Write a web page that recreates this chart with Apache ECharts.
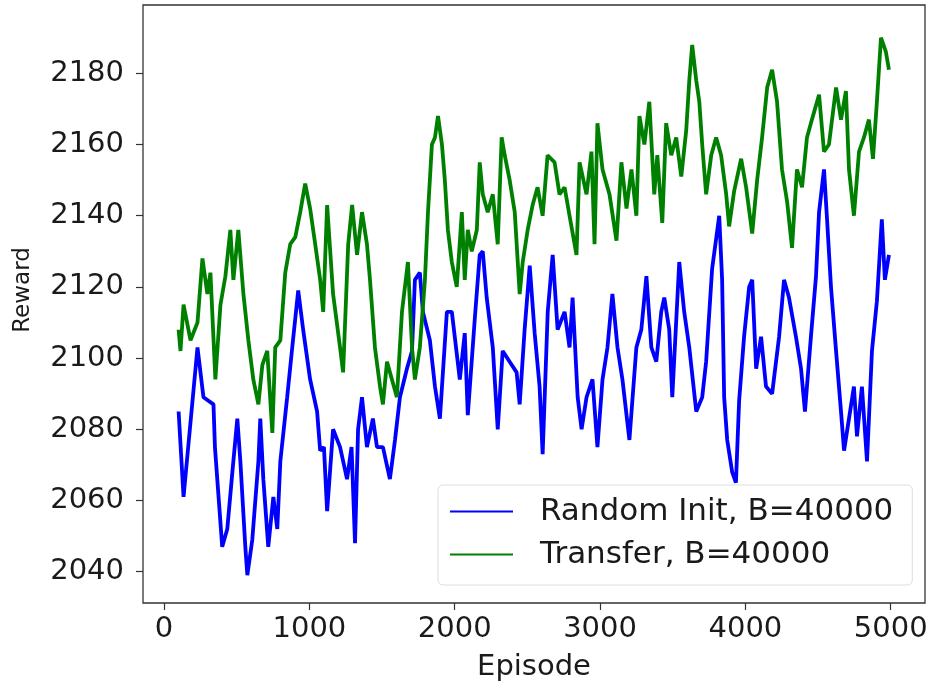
<!DOCTYPE html>
<html>
<head>
<meta charset="utf-8">
<title>Reward vs Episode</title>
<script src="https://cdn.jsdelivr.net/npm/echarts@6/dist/echarts.min.js"></script>
<style>
  html, body { margin: 0; padding: 0; background: #fff; }
  #chart { width: 933px; height: 687px; }
</style>
</head>
<body>
<div id="chart"></div>
<script>
// tick labels
var xTicks = [0, 1000, 2000, 3000, 4000, 5000];
var yTicks = [2040, 2060, 2080, 2100, 2120, 2140, 2160, 2180];

// Random Init, B=40000
var randomEpisodes = [100, 134, 230, 271, 340, 350, 400, 435, 470, 504, 525, 559, 573, 607, 649, 662, 683, 717, 752, 779,
    800, 847, 882, 923, 957, 1005, 1053, 1074, 1100, 1122, 1163, 1211, 1259, 1290, 1314, 1335, 1362, 1396, 1437, 1465,
    1506, 1554, 1589, 1623, 1671, 1706, 1726, 1760, 1781, 1829, 1864, 1898, 1946, 1980, 2035, 2069, 2090, 2138, 2172, 2193,
    2220, 2262, 2296, 2330, 2378, 2426, 2447, 2481, 2516, 2550, 2584, 2605, 2640, 2674, 2708, 2756, 2790, 2811, 2846, 2873,
    2907, 2948, 2982, 3017, 3051, 3085, 3120, 3154, 3202, 3250, 3284, 3319, 3353, 3387, 3421, 3442, 3476, 3497, 3545, 3579,
    3614, 3662, 3703, 3730, 3771, 3820, 3840, 3854, 3875, 3909, 3935, 3957, 3991, 4026, 4047, 4074, 4108, 4142, 4184, 4232,
    4266, 4300, 4348, 4383, 4410, 4451, 4486, 4507, 4541, 4562, 4589, 4624, 4658, 4679, 4713, 4747, 4768, 4802, 4837, 4871,
    4905, 4939, 4960, 4988];
var randomReward = [2085, 2061, 2103, 2089, 2087, 2075, 2047, 2052, 2068, 2083, 2071, 2047, 2039, 2049, 2071, 2083, 2066, 2047, 2061, 2052,
    2071, 2089, 2103, 2119, 2108, 2094, 2085, 2074, 2075, 2057, 2080, 2075, 2066, 2075, 2048, 2080, 2089, 2075, 2083, 2075,
    2075, 2066, 2077, 2089, 2097, 2102, 2122, 2124, 2113, 2105, 2092, 2083, 2113, 2113, 2094, 2107, 2084, 2111, 2129, 2130,
    2117, 2103, 2080, 2102, 2099, 2096, 2087, 2108, 2126, 2107, 2092, 2073, 2113, 2129, 2108, 2113, 2103, 2117, 2089, 2080,
    2089, 2094, 2075, 2094, 2103, 2118, 2103, 2094, 2077, 2103, 2108, 2123, 2103, 2099, 2113, 2117, 2108, 2089, 2127, 2113,
    2103, 2085, 2089, 2099, 2125, 2140, 2122, 2089, 2077, 2068, 2065, 2088, 2106, 2120, 2122, 2097, 2106, 2092, 2090, 2106,
    2122, 2117, 2106, 2097, 2085, 2106, 2123, 2141, 2153, 2139, 2120, 2102, 2085, 2074, 2083, 2092, 2078, 2092, 2071, 2102,
    2116, 2139, 2122, 2129];

// Transfer, B=40000
var transferEpisodes = [100, 113, 134, 182, 230, 264, 298, 319, 353, 388, 422, 456, 477, 511, 546, 580, 614, 649, 676, 710,
    745, 765, 800, 834, 868, 903, 937, 971, 1005, 1040, 1074, 1095, 1122, 1163, 1211, 1232, 1267, 1294, 1328, 1362,
    1396, 1417, 1451, 1486, 1506, 1534, 1568, 1602, 1637, 1678, 1706, 1726, 1760, 1795, 1816, 1843, 1864, 1885, 1912, 1932,
    1953, 1980, 2014, 2049, 2069, 2090, 2117, 2152, 2172, 2193, 2227, 2262, 2296, 2323, 2344, 2378, 2413, 2447, 2468, 2502,
    2536, 2570, 2605, 2639, 2687, 2721, 2756, 2790, 2838, 2859, 2907, 2941, 2962, 2982, 3017, 3065, 3113, 3147, 3182, 3216,
    3250, 3271, 3305, 3339, 3373, 3394, 3428, 3455, 3490, 3524, 3559, 3593, 3614, 3634, 3662, 3683, 3703, 3730, 3765, 3799,
    3833, 3868, 3888, 3923, 3971, 4005, 4047, 4081, 4115, 4150, 4184, 4218, 4252, 4287, 4321, 4355, 4390, 4424, 4458, 4507,
    4541, 4575, 4624, 4658, 4692, 4713, 4747, 4782, 4816, 4850, 4878, 4905, 4933, 4967, 4988];
var transferReward = [2108, 2102, 2115, 2105, 2110, 2128, 2118, 2124, 2094, 2115, 2123, 2136, 2122, 2136, 2118, 2105, 2094, 2087, 2098, 2102,
    2079, 2103, 2105, 2124, 2132, 2134, 2141, 2149, 2142, 2132, 2122, 2113, 2143, 2118, 2103, 2096, 2132, 2143, 2129, 2141,
    2132, 2122, 2103, 2092, 2087, 2099, 2094, 2089, 2113, 2127, 2103, 2094, 2103, 2122, 2141, 2160, 2162, 2168, 2160, 2150,
    2136, 2127, 2120, 2141, 2122, 2136, 2130, 2136, 2155, 2146, 2141, 2146, 2132, 2162, 2157, 2150, 2141, 2118, 2127, 2136,
    2143, 2148, 2140, 2157, 2155, 2146, 2148, 2140, 2129, 2155, 2146, 2158, 2132, 2166, 2153, 2146, 2133, 2155, 2142, 2153,
    2140, 2168, 2160, 2172, 2146, 2157, 2138, 2166, 2157, 2162, 2151, 2164, 2178, 2188, 2178, 2172, 2160, 2146, 2157, 2162,
    2157, 2146, 2137, 2147, 2156, 2148, 2135, 2150, 2162, 2176, 2181, 2172, 2153, 2144, 2131, 2153, 2148, 2162, 2167, 2174,
    2158, 2160, 2176, 2167, 2175, 2153, 2140, 2158, 2162, 2167, 2156, 2172, 2190, 2186, 2181];

function pairs(xs, ys) {
    var out = [];
    for (var i = 0; i < xs.length; i++) {
        out.push([xs[i], ys[i]]);
    }
    return out;
}

// plain numbers, no thousands separator
function plain(v) {
    return String(v);
}

var font = 'DejaVu Sans';
var ink = '#1a1a1a';

var myChart = echarts.init(document.getElementById('chart'), null, {renderer: 'canvas'});
var option = {
    animation: false,
    backgroundColor: '#fff',
    grid: {
        left: 143,
        right: 8,
        top: 5,
        height: 600,
        show: true,
        borderColor: '#333',
        borderWidth: 1.3,
        containLabel: false
    },
    legend: {
        orient: 'vertical',
        left: 438,
        top: 485,
        padding: [11, 19, 15, 12],
        itemWidth: 63,
        itemHeight: 2,
        itemGap: 12,
        icon: 'rect',
        backgroundColor: 'rgba(255,255,255,0.8)',
        borderColor: '#dddddd',
        borderWidth: 1,
        borderRadius: 5,
        textStyle: {
            fontFamily: font,
            fontSize: 31,
            color: ink,
            padding: [0, 0, 0, 22]
        },
        data: ['Random Init, B=40000', 'Transfer, B=40000']
    },
    xAxis: {
        type: 'value',
        min: -145,
        max: 5236,
        name: 'Episode',
        nameLocation: 'middle',
        nameGap: 50,
        nameTextStyle: {fontFamily: font, fontSize: 29, color: ink},
        axisLine: {show: false, onZero: false},
        splitLine: {show: false},
        axisTick: {show: true, length: 7, lineStyle: {color: '#333', width: 1.2}, customValues: xTicks},
        axisLabel: {fontFamily: font, fontSize: 29, color: ink, margin: 12, customValues: xTicks, formatter: plain}
    },
    yAxis: {
        type: 'value',
        min: 2031.2,
        max: 2199.2,
        name: 'Reward',
        nameLocation: 'middle',
        nameGap: 108,
        nameTextStyle: {fontFamily: font, fontSize: 23, color: ink, padding: [0, 0, 0, 28]},
        axisLine: {show: false, onZero: false},
        splitLine: {show: false},
        axisTick: {show: true, length: 7, lineStyle: {color: '#333', width: 1.2}, customValues: yTicks},
        axisLabel: {fontFamily: font, fontSize: 29, color: ink, margin: 19, customValues: yTicks, formatter: plain}
    },
    series: [
        {
            name: 'Random Init, B=40000',
            type: 'line',
            symbol: 'none',
            showSymbol: false,
            data: pairs(randomEpisodes, randomReward),
            lineStyle: {color: '#0000ff', width: 3.8},
            itemStyle: {color: '#0000ff'},
            z: 2
        },
        {
            name: 'Transfer, B=40000',
            type: 'line',
            symbol: 'none',
            showSymbol: false,
            data: pairs(transferEpisodes, transferReward),
            lineStyle: {color: '#008000', width: 3.8},
            itemStyle: {color: '#008000'},
            z: 3
        }
    ]
};
myChart.setOption(option);
</script>
</body>
</html>
